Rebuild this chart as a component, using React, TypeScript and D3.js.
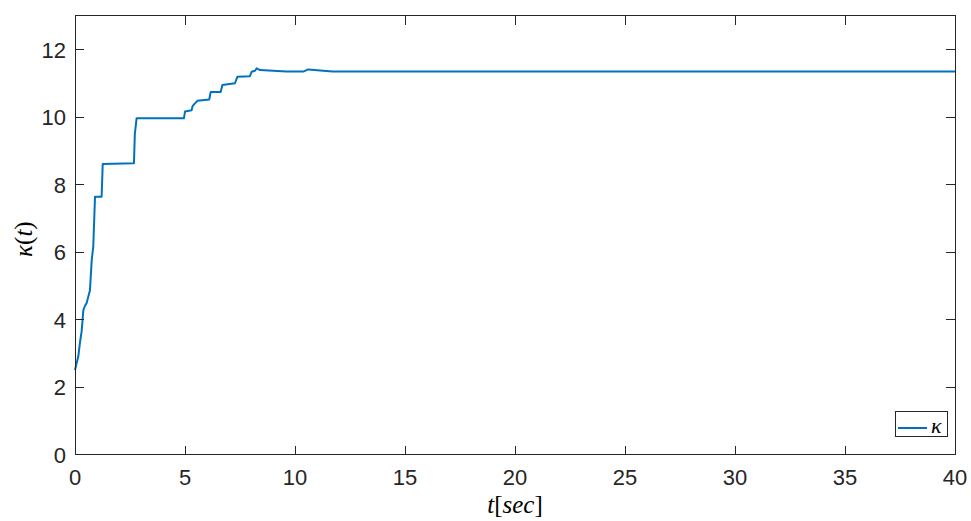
import React from "react";
import * as d3 from "d3";

// Adaptive gain trajectory κ(t)
const tValues = [
  0, 0.15, 0.23, 0.3, 0.38, 0.45, 0.53, 0.68, 0.76, 0.83, 0.91, 1.21, 1.26,
  2.68, 2.72, 2.8, 4.95, 5.0, 5.3, 5.35, 5.56, 6.1, 6.17, 6.62, 6.7, 7.27,
  7.38, 7.95, 8.03, 8.18, 8.26, 8.41, 9.6, 10.4, 10.6, 11.7, 40,
];
const kappaValues = [
  2.5, 2.91, 3.34, 3.64, 4.28, 4.4, 4.49, 4.87, 5.76, 6.16, 7.64, 7.64, 8.61,
  8.63, 9.5, 9.96, 9.96, 10.16, 10.2, 10.33, 10.48, 10.52, 10.74, 10.74, 10.95,
  11.0, 11.19, 11.21, 11.34, 11.37, 11.44, 11.39, 11.35, 11.35, 11.41, 11.35,
  11.35,
];
const xTicks = [0, 5, 10, 15, 20, 25, 30, 35, 40];
const yTicks = [0, 2, 4, 6, 8, 10, 12];

const W = 971;
const H = 521;
const left = 75;
const right = 955;
const top = 15.75;
const bottom = 454.5;
const axisColor = "#262626";
const lineColor = "#0072BD";
const tickLen = 9;
const sans = "'Liberation Sans', Arial, Helvetica, sans-serif";
const serif = "'Liberation Serif', 'DejaVu Serif', 'Times New Roman', serif";

export default function App() {
  const x = d3.scaleLinear().domain([0, 40]).range([left, right]);
  const y = d3.scaleLinear().domain([0, 13]).range([bottom, top]);
  const pts = tValues.map((t, i) => [t, kappaValues[i]] as [number, number]);
  const path = d3
    .line<[number, number]>()
    .x((d) => x(d[0]))
    .y((d) => y(d[1]))(pts) as string;

  return (
    <svg
      width={W}
      height={H}
      style={{ position: "absolute", left: 0, top: 0, background: "#fff" }}
    >
      <rect x={0} y={0} width={W} height={H} fill="#fff" />
      <path d={path} fill="none" stroke={lineColor} strokeWidth={2} strokeLinejoin="round" />

      {/* frame */}
      <rect
        x={left}
        y={top}
        width={right - left}
        height={bottom - top}
        fill="none"
        stroke={axisColor}
        strokeWidth={1}
        shapeRendering="crispEdges"
      />

      {/* x ticks, bottom and top */}
      {xTicks.map((t) => (
        <g key={"x" + t}>
          <line x1={x(t)} x2={x(t)} y1={bottom} y2={bottom - tickLen} stroke={axisColor} shapeRendering="crispEdges" />
          <line x1={x(t)} x2={x(t)} y1={top} y2={top + tickLen} stroke={axisColor} shapeRendering="crispEdges" />
          <text
            x={x(t)}
            y={485}
            textAnchor="middle"
            fontFamily={sans}
            fontSize={22}
            fill={axisColor}
          >
            {t}
          </text>
        </g>
      ))}

      {/* y ticks, left and right */}
      {yTicks.map((v) => (
        <g key={"y" + v}>
          <line x1={left} x2={left + tickLen} y1={y(v)} y2={y(v)} stroke={axisColor} shapeRendering="crispEdges" />
          <line x1={right} x2={right - tickLen} y1={y(v)} y2={y(v)} stroke={axisColor} shapeRendering="crispEdges" />
          <text
            x={66}
            y={y(v) + 8}
            textAnchor="end"
            fontFamily={sans}
            fontSize={22}
            fill={axisColor}
          >
            {v}
          </text>
        </g>
      ))}

      {/* axis labels */}
      <text x={(left + right) / 2} y={513} textAnchor="middle" fontFamily={serif} fontSize={25} fill="#000">
        <tspan fontStyle="italic">t</tspan>
        <tspan>[</tspan>
        <tspan fontStyle="italic">sec</tspan>
        <tspan>]</tspan>
      </text>
      <text
        transform={`translate(32, ${(top + bottom) / 2 + 4}) rotate(-90)`}
        textAnchor="middle"
        fontFamily={serif}
        fontSize={25}
        fill="#000"
      >
        <tspan fontStyle="italic">κ</tspan>
        <tspan>(</tspan>
        <tspan fontStyle="italic">t</tspan>
        <tspan>)</tspan>
      </text>

      {/* legend */}
      <rect x={895.5} y={411.5} width={52} height={25} fill="#fff" stroke={axisColor} strokeWidth={1} shapeRendering="crispEdges" />
      <line x1={898} x2={927} y1={428} y2={428} stroke={lineColor} strokeWidth={2} />
      <text x={931} y={433} fontFamily={serif} fontStyle="italic" fontSize={22} fill="#000">
        κ
      </text>
    </svg>
  );
}
